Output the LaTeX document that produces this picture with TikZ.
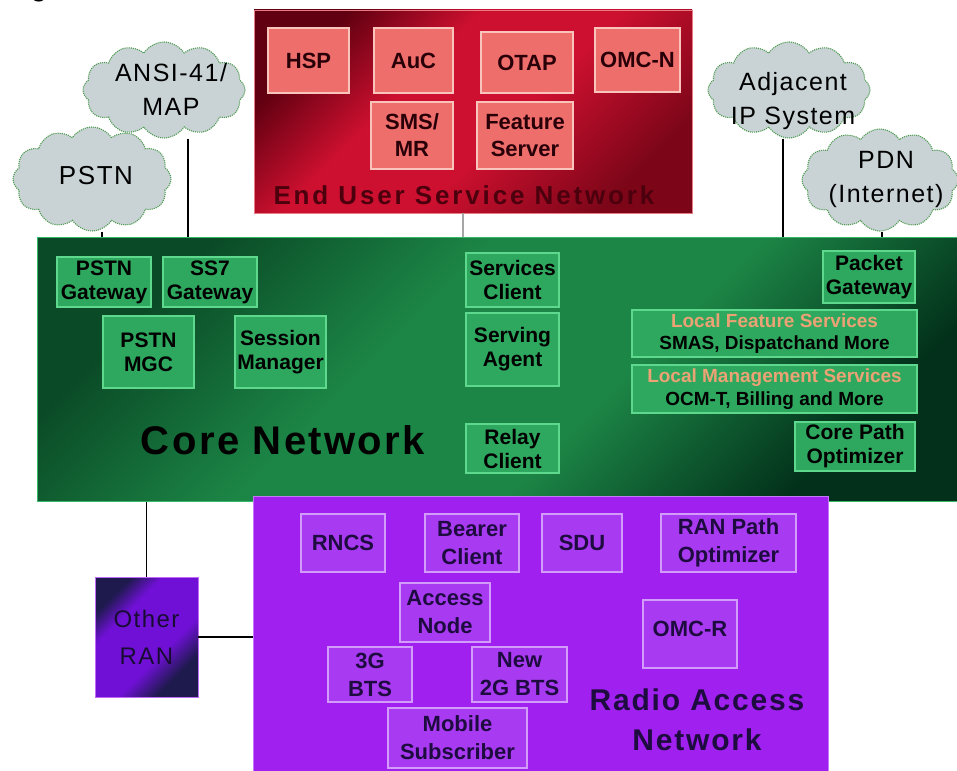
\documentclass[tikz,border=0pt]{standalone}
\usepackage{fontspec}
\setmainfont{Liberation Sans}
\newfontfamily\widesans[LetterSpace=6]{Liberation Sans}
\newfontfamily\widersans[LetterSpace=11]{Liberation Sans}
\usetikzlibrary{shapes.symbols}

\definecolor{redDark}{HTML}{600010}
\definecolor{redMid}{HTML}{CE1030}
\definecolor{redLow}{HTML}{7C0618}
\definecolor{redFill}{HTML}{EE6E6C}
\definecolor{redEdge}{HTML}{F8C4BC}
\definecolor{redInk}{HTML}{2A0008}
\definecolor{redTitle}{HTML}{4C000E}
\definecolor{grnDark}{HTML}{0A4A26}
\definecolor{grnMid}{HTML}{1C8646}
\definecolor{grnLow}{HTML}{02301A}
\definecolor{grnFill}{HTML}{2EA85E}
\definecolor{grnEdge}{HTML}{5ED88C}
\definecolor{grnRim}{HTML}{36B868}
\definecolor{orangeInk}{HTML}{EBA274}
\definecolor{purBg}{HTML}{A020F0}
\definecolor{purFill}{HTML}{A83AF2}
\definecolor{purEdge}{HTML}{D49CFA}
\definecolor{purInk}{HTML}{1E0C40}
\definecolor{oranDark}{HTML}{1E1A4E}
\definecolor{oranMid}{HTML}{7010D6}
\definecolor{oranInk}{HTML}{180C34}
\definecolor{cloudFill}{HTML}{C9D3D6}
\definecolor{cloudEdge}{HTML}{4E9A50}

\pgfdeclareverticalshading{eusnshade}{100bp}{color(0bp)=(redLow); color(25bp)=(redLow); color(45bp)=(redMid); color(60bp)=(redMid); color(75bp)=(redDark); color(100bp)=(redDark)}
\pgfdeclareverticalshading{coreshade}{100bp}{color(0bp)=(grnLow); color(25bp)=(grnLow); color(42bp)=(grnMid); color(58bp)=(grnMid); color(75bp)=(grnDark); color(100bp)=(grnDark)}
\pgfdeclareverticalshading{oranshade}{100bp}{color(0bp)=(oranDark); color(28bp)=(oranDark); color(40bp)=(oranMid); color(64bp)=(oranMid); color(74bp)=(oranDark); color(100bp)=(oranDark)}

\newcommand\setfz[2]{\fontsize{#1}{#2}\selectfont}

\begin{document}
\begin{tikzpicture}[x=1pt,y=-1pt,
  link/.style={draw=black, line width=1.8pt},
  cloudnode/.style={cloud, cloud puffs=12, cloud puff arc=115, cloud ignores aspect,
    fill=cloudFill, draw=cloudEdge, densely dotted, line width=1.1pt, inner sep=0pt},
  cloudtext/.style={align=center, text=black, inner sep=0pt, font=\setfz{25}{34}\widesans},
  ubox/.style={draw=redEdge, fill=redFill, line width=1.3pt, inner sep=0pt, align=center,
    text=redInk, font=\setfz{22}{27}\bfseries},
  gbox/.style={draw=grnEdge, fill=grnFill, line width=1.1pt, inner sep=0pt, align=center,
    text=black, font=\setfz{21}{24}\bfseries},
  pbox/.style={draw=purEdge, fill=purFill, line width=1.1pt, inner sep=0pt, align=center,
    text=purInk, font=\setfz{22}{28}\bfseries},
]
\useasboundingbox (0,0) rectangle (957,770);
\fill[white] (0,0) rectangle (957,770);

% clipped caption remnant at the top edge
\node[anchor=base, inner sep=0pt, font=\setfz{26}{26}\bfseries] (capg) at (39,-3) {g};

% ---------- connector anchors ----------
\coordinate (ansiFoot) at (188,238);
\coordinate (pstnFoot) at (102,238);
\coordinate (adjFoot)  at (783,238);
\coordinate (pdnFoot)  at (882,238);
\coordinate (eusnFoot) at (463,238);

% ---------- clouds ----------
\node[cloudnode, minimum width=162, minimum height=96] (ansi) at (164,90) {};
\node[cloudnode, minimum width=158, minimum height=104] (pstn) at (92,179) {};
\node[cloudnode, minimum width=162, minimum height=96] (adj) at (789,90) {};
\node[cloudnode, minimum width=156, minimum height=102] (pdn) at (880,180) {};

% ---------- connectors to the core network ----------
\draw[link] (ansiFoot |- ansi.south) -- (ansiFoot);
\draw[link] (pstnFoot |- pstn.south) -- (pstnFoot);
\draw[link] (adjFoot |- adj.south) -- (adjFoot);
\draw[link] (pdnFoot |- pdn.south) -- (pdnFoot);

\node[cloudtext] (ansiT) at (171,89) {ANSI-41/\\MAP};
\node[cloudtext, font=\setfz{26}{34}\widesans] (pstnT) at (96,176) {PSTN};
\node[cloudtext] (adjT) at (793,101) {Adjacent\\IP System};
\node[cloudtext] (pdnT) at (886,179) {PDN\\(Internet)};

% ---------- End User Service Network ----------
\node[shade, shading=eusnshade, shading angle=45, draw=redEdge!60!redMid, line width=0.8pt,
  minimum width=438, minimum height=203, inner sep=0pt] (eusn) at (473,111.5) {};
\draw[gray!70, line width=1.6pt] (eusnFoot |- eusn.south) -- (eusnFoot);

\node[ubox, minimum width=81, minimum height=65] (hsp)  at (308.5,60.5) {HSP};
\node[ubox, minimum width=79, minimum height=65] (auc)  at (413.5,60.5) {AuC};
\node[ubox, minimum width=92, minimum height=61] (otap) at (527,62.5) {OTAP};
\node[ubox, minimum width=85, minimum height=64] (omcn) at (637.5,60) {OMC-N};
\node[ubox, minimum width=82, minimum height=67] (sms)  at (412,135.5) {SMS/\\MR};
\node[ubox, minimum width=96, minimum height=67] (feat) at (525,135.5) {Feature\\Server};
\node[text=redTitle, inner sep=0pt, font=\setfz{26}{28}\bfseries\widersans] (eusnT) at (464,195)
  {End User Service Network};

% ---------- Core Network ----------
\node[shade, shading=coreshade, shading angle=45, draw=grnRim, line width=1pt,
  minimum width=922, minimum height=264, inner sep=0pt] (core) at (498,369.5) {};

\node[gbox, minimum width=94, minimum height=50] (pstngw) at (104,282) {PSTN\\Gateway};
\node[gbox, minimum width=94, minimum height=50] (ss7gw)  at (210,282) {SS7\\Gateway};
\node[gbox, minimum width=91, minimum height=72] (mgc)    at (148.5,352) {PSTN\\MGC};
\node[gbox, minimum width=91, minimum height=72] (sess)   at (280.5,352) {Session\\Manager};
\node[gbox, minimum width=93, minimum height=54] (svcc)   at (512.5,280) {Services\\Client};
\node[gbox, minimum width=93, minimum height=73] (serv)   at (512.5,349.5) {Serving\\Agent};
\node[gbox, minimum width=93, minimum height=49] (relay)  at (512.5,448.5) {Relay\\Client};
\node[gbox, minimum width=92, minimum height=52] (pktgw)  at (869,277) {Packet\\Gateway};
\node[gbox, minimum width=285, minimum height=47, font=\setfz{19}{22}\bfseries] (lfs) at (774.5,333.5)
  {\textcolor{orangeInk}{Local Feature Services}\\SMAS, Dispatchand More};
\node[gbox, minimum width=285, minimum height=48, font=\setfz{19}{23}\bfseries] (lms) at (774.5,389)
  {\textcolor{orangeInk}{Local Management Services}\\OCM-T, Billing and More};
\node[gbox, minimum width=120, minimum height=49] (cpo)   at (855,446.5) {Core Path\\Optimizer};
\node[inner sep=0pt, font=\setfz{40}{44}\bfseries\widesans] (coreT) at (283,440) {Core Network};

% ---------- Radio Access Network ----------
\node[fill=purBg, draw=purEdge!70!purBg, line width=1pt, minimum width=575, minimum height=280,
  inner sep=0pt] (ran) at (540.5,636) {};

\node[pbox, minimum width=84, minimum height=58] (rncs)   at (343,543) {RNCS};
\node[pbox, minimum width=94, minimum height=58] (bearer) at (472,543) {Bearer\\Client};
\node[pbox, minimum width=80, minimum height=58] (sdu)    at (582,543) {SDU};
\node[pbox, minimum width=135, minimum height=58] (ranpo) at (728.5,543) {RAN Path\\Optimizer};
\node[pbox, minimum width=90, minimum height=59] (access) at (445,612.5) {Access\\Node};
\node[pbox, minimum width=84, minimum height=55] (bts3)   at (370,674.5) {3G\\BTS};
\node[pbox, minimum width=95, minimum height=55] (bts2)   at (519.5,674.5) {New\\2G BTS};
\node[pbox, minimum width=139, minimum height=60] (mobile) at (457.5,738) {Mobile\\Subscriber};
\node[pbox, minimum width=94, minimum height=68, text depth=10pt] (omcr) at (690,634) {OMC-R};
\node[align=center, inner sep=0pt, text=purInk, font=\setfz{30}{40}\bfseries\widesans] (ranT) at (697,720)
  {Radio Access\\Network};

% ---------- Other RAN ----------
\node[shade, shading=oranshade, shading angle=45, draw=purEdge!60!purBg, line width=0.8pt,
  minimum width=103, minimum height=120, inner sep=0pt, align=center, text=oranInk,
  font=\setfz{24}{37}\widesans] (oran) at (146.5,637) {Other\\RAN};

\draw[link] (core.south -| oran.north) -- (oran.north);
\draw[link] (oran.east) -- (oran.east -| ran.west);
\end{tikzpicture}
\end{document}
